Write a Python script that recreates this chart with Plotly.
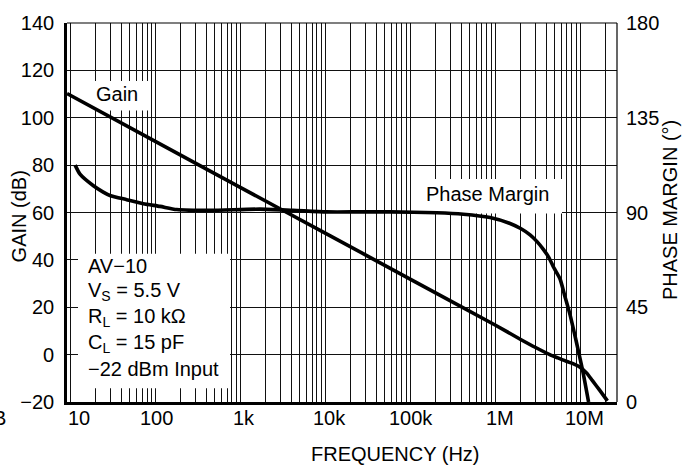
import math
import plotly.graph_objects as go

# ---------------- data ----------------
gain_freq = [9.15, 100, 1e3, 1e4, 1e5, 1e6, 2e6, 3e6, 4.4e6, 5.5e6, 7e6, 8.5e6, 1e7,
             1.2e7, 1.4e7, 1.7e7, 2.1e7]
gain_db = [110.2, 90.0, 70.6, 51.3, 31.9, 12.5, 6.4, 3.0, 0.0, -1.4, -2.9, -4.0, -5.3,
           -7.8, -11.0, -15.0, -19.5]

phase_freq = [11.4, 13.0, 18.7, 24.4, 29.3, 46.1, 72.3, 114, 179, 441, 1710, 4190,
              10.4e3, 25.7e3, 58e3, 206e3, 423e3, 873e3, 1.5e6, 2.0e6, 2.58e6, 3.1e6,
              3.7e6, 4.3e6, 4.8e6, 5.3e6, 5.82e6, 6.65e6, 7.63e6, 8.6e6, 9.55e6,
              10.9e6, 12.6e6]
phase_deg = [112.5, 108.2, 102.7, 99.7, 98.1, 96.1, 94.2, 92.9, 91.4, 91.0, 91.6, 91.0,
             90.3, 90.3, 90.3, 89.9, 89.2, 87.6, 84.8, 82.4, 79.4, 76.3,
             72.5, 68.6, 64.6, 61.4, 58.4, 50.0, 41.4, 32.5, 24.3,
             13.6, 0.0]

x_tick_vals = [10, 100, 1e3, 1e4, 1e5, 1e6, 1e7]
x_tick_text = ["10", "100", "1k", "10k", "100k", "1M", "10M"]
x_label_shift = [9, 1, 4, 4, 1, 5, 4]
gain_ticks = [-20, 0, 20, 40, 60, 80, 100, 120, 140]
phase_ticks = [0, 45, 90, 135, 180]
cond_lines = ["AV\u221210", "V<sub>S</sub> = 5.5 V", "R<sub>L</sub> = 10 k\u03a9",
              "C<sub>L</sub> = 15 pF", "\u221222 dBm Input"]

# ---------------- layout geometry ----------------
W, H = 692, 468
L, R, T, B = 67, 75, 16, 66
PW, PH = W - L - R, H - T - B
X_RANGE = [0.961, 7.435]
Y_RANGE = [-20, 140]


def px(x):
    return (x - L) / PW


def py(y):
    return (H - B - y) / PH


def fx(x):  # pixel -> frequency (for label background boxes)
    return 10 ** (X_RANGE[0] + px(x) * (X_RANGE[1] - X_RANGE[0]))


def gy(y):  # pixel -> gain-axis value
    return Y_RANGE[0] + py(y) * (Y_RANGE[1] - Y_RANGE[0])


FONT = "Liberation Sans, Arial, Helvetica, sans-serif"
FS = 20

grid_vals = [m * 10 ** d for d in range(0, 8) for m in range(1, 10)
             if X_RANGE[0] <= math.log10(m * 10 ** d) <= X_RANGE[1]]

fig = go.Figure()

# white backgrounds behind the labels (above grid, below curves)
for (x0, x1, y0, y1) in [(78, 230, 251, 388), (93, 150, 75, 105), (420, 562, 175, 210)]:
    fig.add_trace(go.Scatter(
        x=[fx(x0), fx(x1), fx(x1), fx(x0), fx(x0)],
        y=[gy(y0), gy(y0), gy(y1), gy(y1), gy(y0)],
        mode="lines", fill="toself", fillcolor="white",
        line=dict(width=0, color="white"), showlegend=False, hoverinfo="skip"))

fig.add_trace(go.Scatter(x=gain_freq, y=gain_db, mode="lines", yaxis="y",
                         line=dict(color="black", width=3.6, shape="spline", smoothing=0.6),
                         showlegend=False, hoverinfo="skip"))
fig.add_trace(go.Scatter(x=phase_freq, y=phase_deg, mode="lines", yaxis="y2",
                         line=dict(color="black", width=3.6, shape="spline", smoothing=0.6),
                         showlegend=False, hoverinfo="skip"))

fig.update_layout(
    width=W, height=H,
    margin=dict(l=L, r=R, t=T, b=B, pad=0),
    paper_bgcolor="white", plot_bgcolor="white",
    font=dict(family=FONT, size=FS, color="black"),
    xaxis=dict(type="log", range=X_RANGE, tickvals=grid_vals, showticklabels=False,
               showgrid=True, gridcolor="#111", gridwidth=1, ticks="",
               showline=True, linecolor="black", linewidth=2.7, zeroline=False),
    yaxis=dict(range=Y_RANGE, tickvals=gain_ticks,
               ticktext=[str(v).replace("-", "\u2212") for v in gain_ticks],
               showgrid=True, gridcolor="#111", gridwidth=1, ticks="",
               showline=True, linecolor="black", linewidth=2.7, zeroline=False,
               ticklabelstandoff=6, tickfont=dict(size=FS)),
    yaxis2=dict(range=[0, 180], tickvals=phase_ticks, overlaying="y", side="right",
                showgrid=False, zeroline=False, showline=False, ticks="",
                ticklabelstandoff=8, tickfont=dict(size=FS)),
)

shapes = [
    dict(type="line", xref="paper", yref="paper", x0=0, x1=1, y0=1, y1=1,
         line=dict(color="black", width=1.2)),
    dict(type="line", xref="paper", yref="paper", x0=1, x1=1, y0=0, y1=1,
         line=dict(color="black", width=1.2)),
]
fig.update_layout(shapes=shapes)

ann = []
for v, t, s in zip(x_tick_vals, x_tick_text, x_label_shift):
    ann.append(dict(x=math.log10(v), xref="x", y=py(418), yref="paper", text=t,
                    showarrow=False, xanchor="center", yanchor="middle", xshift=s))
for i, t in enumerate(cond_lines):
    ann.append(dict(x=px(86), y=py(263 + 26.4 * i), xref="paper", yref="paper", text=t,
                    showarrow=False, xanchor="left", yanchor="middle"))
ann += [
    dict(x=px(116.5), y=py(88), xref="paper", yref="paper", text="Gain",
         showarrow=False, xanchor="center", yanchor="middle"),
    dict(x=px(487.7), y=py(190), xref="paper", yref="paper", text="Phase Margin",
         showarrow=False, xanchor="center", yanchor="middle"),
    dict(x=px(19), y=py(213), xref="paper", yref="paper", text="GAIN (dB)",
         showarrow=False, textangle=-90, xanchor="center", yanchor="middle"),
    dict(x=px(669.5), y=py(207), xref="paper", yref="paper", text="PHASE MARGIN (\u00b0)",
         showarrow=False, textangle=-90, xanchor="center", yanchor="middle"),
    dict(x=px(395), y=py(455), xref="paper", yref="paper", text="FREQUENCY (Hz)",
         showarrow=False, xanchor="center", yanchor="middle"),
    dict(x=px(8), y=py(418), xref="paper", yref="paper", text="B",
         showarrow=False, xanchor="right", yanchor="middle"),
]
fig.update_layout(annotations=ann)

fig.write_html("out.html")
